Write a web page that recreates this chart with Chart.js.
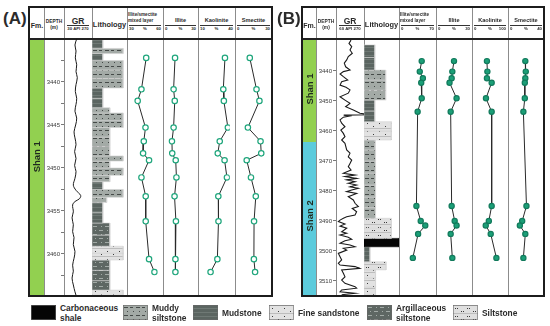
<!DOCTYPE html>
<html>
<head>
<meta charset="utf-8">
<script src="https://cdn.jsdelivr.net/npm/chart.js@4.4.1/dist/chart.umd.min.js"></script>
<style>
body{margin:0;background:#fff;}
#wrap{position:relative;width:550px;height:326px;overflow:hidden;font-family:"Liberation Sans",Arial,sans-serif;color:#2b2b2b;}
#wrap div{position:absolute;}
#wrap canvas{position:absolute;}
.t{font-weight:bold;white-space:nowrap;line-height:1;}
</style>
</head>
<body>
<div id="wrap"></div>
<script>
// ===== Data: panel A =====
const depthA = [3437.2, 3440.85, 3442.2, 3445.3, 3446.9, 3448.3, 3449.1, 3451.1, 3453.3, 3456.2, 3460.6, 3462.1];
const isA  = [46.7, 40, 34.7, 45.7, 43.3, 42.3, 50.7, 40, 46, 46, 50.7, 58.3];
const illA = [7.5, 5.5, 7.1, 5.5, 3.2, 3.6, 8.4, 9.4, 6.8, 8.7, 8.0, 8.0];
const kaoA = [35.7, 33.6, 34.3, 39.4, 29.1, 26.6, 35.2, 38.2, 27.3, 27.5, 26.1, 17.5];
const smeA = [10.3, 18.8, 22.5, 7.9, 23.9, 24.8, 6.4, 11.8, 17.9, 15.7, 15.5, 17.0];

const grDepthA = [3435.0,3435.7,3436.4,3437.2,3438.0,3438.8,3439.5,3440.3,3441.1,3441.9,3442.6,3443.4,3444.2,3445.0,3445.8,3446.5,3447.3,3448.1,3448.9,3449.7,3450.4,3451.2,3452.0,3452.6,3453.2,3453.6,3453.9,3454.3,3455.1,3455.8,3456.6,3457.4,3458.1,3458.9,3459.7,3460.5,3461.3,3462.0,3462.8,3463.6,3464.4,3464.8];
const grA      = [139,124,133,127,139,133,144,133,127,139,133,124,139,130,116,124,133,121,133,121,133,124,110,133,173,161,124,104,110,99,110,104,116,110,124,116,104,110,99,110,124,133];

const litTopA   = [3435.1,3436.1,3436.7,3437.5,3438.6,3439.6,3440.7,3441.9,3443.0,3443.6,3444.5,3445.3,3446.4,3447.5,3448.6,3449.2,3450.0,3450.85,3451.6,3452.5,3453.4,3454.0,3455.2,3456.4,3457.8,3459.1,3459.9,3460.7,3461.9,3463.1,3464.2];
const litTypeA  = ['mud','mudsilt','mud','mudsilt','mudsilt','mudsilt','mud','mud','mudsilt','mudsilt','mudsilt','mudsilt','mudsilt','mudsilt','mudsilt','mudsilt','mudsilt','mudsilt','mud','mudsilt','mudsilt','mud','mud','argsilt','argsilt','fsand','fsand','argsilt','argsilt','argsilt','fsand'];
const litWidthA = [3.1,8.9,3.1,8.9,8.9,8.9,3.1,3.1,5.1,8.9,8.9,5.1,5.1,5.1,8.9,5.1,8.9,5.1,3.1,8.9,4.2,3.1,3.1,5.1,5.1,8.9,8.9,5.1,5.1,5.1,8.9];
const litEndA = 3464.75;

const fmNameA = ['Shan 1'];
const fmTopA = [3435.1];
const fmBaseA = [3464.77];
const fmLabelA = [3448.7];

const depthRangeA = [3435.12, 3464.77];
const depthTicksA = [3437.5,3440,3442.5,3445,3447.5,3450,3452.5,3455,3457.5,3460,3462.5];
const grRangeA = [30, 270];
const minRangeA = [[30,60],[0,30],[10,40],[0,30]];

// ===== Data: panel B =====
const depthB = [3436.7, 3440.2, 3442.4, 3443.9, 3449.1, 3453.6, 3485.0, 3490.0, 3491.5, 3494.3, 3502.3];
const isB  = [47.4, 41.7, 50.9, 46, 47.4, 35.4, 31.8, 44.5, 57.9, 36.8, 21.2];
const illB = [15, 12.8, 11.9, 9.1, 18.4, 10.6, 11.9, 15.9, 18.4, 10.6, 12.8];
const kaoB = [36.5, 38.5, 36.5, 57.3, 32.3, 57.3, 57.3, 44.8, 31.3, 53.1, 78.1];
const smeB = [18.8, 19.6, 18.8, 17.9, 17.9, 15.4, 20.8, 13.3, 9.2, 18.8, 15.4];

const grDepthB = [3429.7,3430.8,3431.9,3433.0,3434.1,3435.2,3436.3,3437.4,3438.6,3439.7,3440.2,3441.0,3441.9,3443.0,3443.6,3444.7,3445.4,3446.3,3447.4,3448.6,3449.7,3450.8,3451.9,3453.0,3454.1,3454.5,3454.6,3454.7,3455.0,3455.4,3456.3,3457.4,3458.6,3459.7,3460.8,3461.9,3463.0,3464.1,3466.3,3467.4,3468.6,3469.7,3470.8,3471.9,3473.0,3474.1,3474.7,3475.2,3475.8,3476.3,3476.9,3477.4,3478.0,3478.6,3479.1,3479.7,3480.2,3480.8,3481.9,3483.0,3484.1,3485.2,3485.8,3486.9,3488.0,3488.6,3489.1,3489.7,3490.2,3491.0,3491.7,3492.4,3493.6,3494.1,3494.7,3495.4,3496.1,3496.6,3497.4,3498.0,3498.6,3499.1,3499.7,3500.8,3501.9,3503.0,3504.1,3504.7,3505.2,3505.8,3506.3,3507.4,3508.6,3509.7,3510.8,3511.9,3512.4,3513.0,3513.6,3514.1,3514.6];
const grB      = [174,156,180,165,185,150,136,115,127,165,107,78,107,145,92,78,130,165,150,78,121,165,127,194,252,330,330,110,160,107,78,92,121,85,107,121,92,121,136,165,150,180,165,150,174,107,209,121,223,136,209,150,223,165,238,180,136,223,150,194,209,238,185,223,209,136,107,78,63,121,78,136,92,136,78,150,180,121,78,165,209,107,136,63,78,92,63,78,209,250,92,107,121,92,121,209,223,92,78,209,92];

const litTopB   = [3431.3,3435.5,3439.7,3443.0,3446.4,3449.7,3453.3,3456.9,3460.0,3463.0,3466.3,3470.0,3474.0,3478.0,3482.0,3485.6,3489.1,3492.4,3495.8,3498.6,3503.6,3506.3,3509.0,3512.0];
const litTypeB  = ['mud','mud','mudsilt','mudsilt','mudsilt','mud','mud','fsand','fsand','mudsilt','mudsilt','mudsilt','mudsilt','mudsilt','mudsilt','mudsilt','silt','silt','coal','mud','silt','fsand','fsand','fsand'];
const litWidthB = [3.1,3.1,6.2,6.2,6.2,3.1,3.1,7.8,7.8,3.2,3.3,3.3,3.3,3.3,3.3,3.3,7.8,7.8,10,1.7,6.3,3.3,3.3,3.3];
const litEndB = 3514.7;

const fmNameB = ['Shan 1', 'Shan 2'];
const fmTopB = [3429.67, 3463.7];
const fmBaseB = [3463.7, 3514.67];
const fmLabelB = [3446, 3488.3];

const depthRangeB = [3429.67, 3514.67];
const depthTicksB = [3440,3450,3460,3470,3480,3490,3500,3510];
const grRangeB = [60, 270];
const minRangeB = [[0,70],[0,30],[0,100],[0,40]];

const minNames = ['Illite/smectite mixed layer', 'Illite', 'Kaolinite', 'Smectite'];
const legendTypes = ['coal','mudsilt','mud','fsand','argsilt','silt'];
const legendNames = ['Carbonaceous\nshale','Muddy\nsiltstone','Mudstone','Fine sandstone','Argillaceous\nsiltstone','Siltstone'];

// ===== Layout =====
const wrap = document.getElementById('wrap');
const TOP = 7, HEAD = 39, Y0 = 40, Y1 = 295, BOT = 296, PADV = 8;
const fmColor = {'Shan 1': '#92d050', 'Shan 2': '#5ccbdc'};

function box(x, y, w, h, css) {
    const d = document.createElement('div');
    d.style.cssText = `left:${x}px;top:${y}px;width:${w}px;height:${h}px;${css||''}`;
    wrap.appendChild(d);
    return d;
}
function txt(s, x, y, size, align, css) {
    const d = document.createElement('div');
    d.className = 't';
    d.textContent = s;
    let tr = align === 'left' ? '' : align === 'right' ? 'translateX(-100%)' : 'translateX(-50%)';
    d.style.cssText = `left:${x}px;top:${y - size/2}px;font-size:${size}px;transform:${tr};${css||''}`;
    wrap.appendChild(d);
    return d;
}

// ===== Patterns =====
function tile(w, h, fn) {
    const c = document.createElement('canvas');
    c.width = w; c.height = h;
    fn(c.getContext('2d'));
    return c.getContext('2d').createPattern(c, 'repeat');
}
const fills = {
    coal: '#050505',
    mud: tile(10, 4, g => { g.fillStyle = '#5b6561'; g.fillRect(0,0,10,4); g.fillStyle = '#6f7975'; g.fillRect(0,3,10,1); }),
    argsilt: tile(12, 8, g => {
        g.fillStyle = '#5e6763'; g.fillRect(0,0,12,8);
        g.fillStyle = '#a2aaa6'; g.fillRect(1,2,4,1); g.fillRect(7,6,4,1); g.fillRect(9,2,1,1); g.fillRect(3,6,1,1);
    }),
    mudsilt: tile(12, 8, g => {
        g.fillStyle = '#a3aaa6'; g.fillRect(0,0,12,8);
        g.fillStyle = '#454a48'; g.fillRect(1,2,4,1); g.fillRect(7,2,3,1); g.fillRect(4,6,1,1); g.fillRect(10,6,1,1);
    }),
    fsand: tile(12, 8, g => {
        g.fillStyle = '#e2e2e2'; g.fillRect(0,0,12,8);
        g.fillStyle = '#bdbdbd'; g.fillRect(0,0,12,1);
        g.fillStyle = '#3a3a3a'; g.fillRect(3,3,1,1); g.fillRect(9,6,1,1);
    }),
    silt: tile(12, 8, g => {
        g.fillStyle = '#dfdfdf'; g.fillRect(0,0,12,8);
        g.fillStyle = '#bdbdbd'; g.fillRect(0,0,12,1);
        g.fillStyle = '#3a3a3a'; g.fillRect(2,3,1,1); g.fillRect(4,3,1,1); g.fillRect(8,6,1,1); g.fillRect(10,6,1,1);
    })
};

// ===== Charts =====
function padRange(lo, hi, w, p) {
    const per = (hi - lo) / (w - 2 * p);
    return [lo - p * per, hi + p * per];
}
function baseOpts(xr, yr) {
    return {
        responsive: false, animation: false, devicePixelRatio: 1, events: [],
        layout: {padding: {top: PADV, bottom: PADV, left: 0, right: 0}},
        plugins: {legend: {display: false}, tooltip: {enabled: false}},
        scales: {
            x: {type: 'linear', display: false, min: xr[0], max: xr[1]},
            y: {type: 'linear', display: false, min: yr[0], max: yr[1], reverse: true}
        }
    };
}
function mk(x, w, cfg) {
    const c = document.createElement('canvas');
    c.width = w; c.height = (Y1 - Y0) + 2 * PADV;
    c.style.left = x + 'px'; c.style.top = (Y0 - PADV) + 'px';
    wrap.appendChild(c);
    return new Chart(c, cfg);
}
function rect(x0, x1, y0, y1) {
    return [{x:x0,y:y0},{x:x1,y:y0},{x:x1,y:y1},{x:x0,y:y1},{x:x0,y:y0}];
}

function panel(P) {
    const c = P.cols;
    // frame, header line, separators
    for (let i = 1; i < 8; i++) box(c[i] - 0.5, TOP, 1, BOT - TOP, 'background:#8c8c8c');
    box(c[0], HEAD - 0.75, c[8] - c[0], 1.5, 'background:#222');
    box(c[0] - 1, TOP - 1, c[8] - c[0] + 2, BOT - TOP + 2, 'border:2px solid #1c1c1c;box-sizing:border-box');

    // header
    txt(P.tag, P.tagX, 18, 17, 'left');
    txt('Fm.', (c[0]+c[1])/2 + 0.5, 25, 7, 'center');
    txt('DEPTH', (c[1]+c[2])/2, 22.5, 4.8, 'center');
    txt('(m)', (c[1]+c[2])/2, 28, 4.8, 'center');
    txt('GR', (c[2]+c[3])/2, 21, 8.5, 'center');
    box(c[2] + 3, 25.2, c[3] - c[2] - 6, 0.8, 'background:#333');
    txt(`${P.gr[0]} API ${P.gr[1]}`, (c[2]+c[3])/2, 29.5, 4.3, 'center');
    txt('Lithology', (c[3]+c[4])/2, 25, 7.4, 'center');
    for (let k = 0; k < 4; k++) {
        const l = c[4+k], r = c[5+k];
        if (k === 0) {
            txt('Illite/smectite', l + 1, 15.5, 4.6, 'left');
            txt('mixed layer', l + 1, 21, 4.6, 'left');
        } else {
            txt(minNames[k], (l+r)/2, 20.5, 5.6, 'center');
        }
        box(l + 2, 25.2, r - l - 4, 0.8, 'background:#333');
        txt(String(P.ranges[k][0]), l + 2, 29.5, 4.3, 'left');
        txt('%', (l+r)/2, 29.5, 4.3, 'center');
        txt(String(P.ranges[k][1]), r - 2, 29.5, 4.3, 'right');
    }

    // Fm column
    const fmOpts = baseOpts([0, 1], P.depthRange);
    mk(c[0] + 1, c[1] - c[0] - 1, {
        type: 'line',
        data: {datasets: P.fmName.map((n, i) => ({
            data: rect(0, 1, P.fmTop[i], P.fmBase[i]), fill: 'shape',
            backgroundColor: fmColor[n], borderWidth: 0, pointRadius: 0
        }))},
        options: fmOpts,
        plugins: [{
            id: 'fmLabels',
            afterDatasetsDraw(chart) {
                const {ctx, scales: {x, y}} = chart;
                P.fmName.forEach((n, i) => {
                    ctx.save();
                    ctx.translate(x.getPixelForValue(0.5) + 0.5, y.getPixelForValue(P.fmLabel[i]));
                    ctx.rotate(-Math.PI / 2);
                    ctx.font = 'bold 9.5px "Liberation Sans", Arial';
                    ctx.fillStyle = '#1f2a1f';
                    ctx.textAlign = 'center'; ctx.textBaseline = 'middle';
                    ctx.fillText(n, 0, 0);
                    ctx.restore();
                });
            }
        }]
    });

    // depth axis + GR
    const grW = c[3] - c[2];
    const grOpts = baseOpts(padRange(P.gr[0], P.gr[1], grW, P.grPad), P.depthRange);
    grOpts.layout.padding.right = 8;
    grOpts.scales.y = {
        type: 'linear', display: true, position: 'left', reverse: true,
        min: P.depthRange[0], max: P.depthRange[1],
        afterFit: s => { s.width = c[2] - c[1]; },
        afterBuildTicks: s => { s.ticks = P.ticks.map(v => ({value: v})); },
        grid: {drawOnChartArea: false, drawTicks: true, tickLength: 3, color: '#555', lineWidth: 0.8},
        border: {display: false},
        ticks: {autoSkip: false, padding: 1, color: '#3a3a3a', font: {size: 6, family: '"Liberation Sans", Arial'},
                callback: v => (v % P.labelStep === 0 ? v : '')}
    };
    mk(c[1], c[3] - c[1] + 8, {
        type: 'line',
        data: {datasets: [{
            data: P.grDepth.map((d, i) => ({x: P.grVal[i], y: d})),
            borderColor: '#1a1a1a', borderWidth: P.grLine, pointRadius: 0, tension: P.grTension, clip: false, fill: false
        }]},
        options: grOpts
    });

    // lithology
    mk(c[3], c[4] - c[3], {
        type: 'line',
        data: {datasets: P.litTop.map((t, i) => ({
            data: rect(0, P.litW[i], t, i + 1 < P.litTop.length ? P.litTop[i+1] : P.litEnd),
            fill: 'shape', backgroundColor: fills[P.litType[i]],
            borderColor: P.litType[i] === 'coal' ? '#000' : '#d4d4d4', borderWidth: 0.6, pointRadius: 0, tension: 0
        }))},
        options: baseOpts([0, 10], P.depthRange)
    });

    // clay minerals
    for (let k = 0; k < 4; k++) {
        const l = c[4+k], r = c[5+k];
        mk(l, r - l, {
            type: 'line',
            data: {datasets: [{
                data: P.depth.map((d, i) => ({x: P.minerals[k][i], y: d})),
                borderColor: '#2a2a2a', borderWidth: 1, tension: 0, fill: false,
                pointRadius: P.ptR, pointBorderWidth: 1.2,
                pointBorderColor: P.ptBorder, pointBackgroundColor: P.ptFill
            }]},
            options: baseOpts(padRange(P.ranges[k][0], P.ranges[k][1], r - l, k === 0 ? P.isPad : 2), P.depthRange)
        });
    }
}

panel({
    tag: '(A)', tagX: 3, cols: [29,44,64,92,127,163,198,235,272],
    depthRange: depthRangeA, ticks: depthTicksA, labelStep: 5,
    gr: grRangeA, grPad: 0, grDepth: grDepthA, grVal: grA, grLine: 1, grTension: 0.35,
    litTop: litTopA, litType: litTypeA, litW: litWidthA, litEnd: litEndA,
    fmName: fmNameA, fmTop: fmTopA, fmBase: fmBaseA, fmLabel: fmLabelA,
    depth: depthA, minerals: [isA, illA, kaoA, smeA], ranges: minRangeA, isPad: 3,
    ptR: 2.7, ptBorder: '#1fa67c', ptFill: '#ffffff'
});
panel({
    tag: '(B)', tagX: 277, cols: [302,316,336,364,399,436,472,508,544],
    depthRange: depthRangeB, ticks: depthTicksB, labelStep: 10,
    gr: grRangeB, grPad: 2, grDepth: grDepthB, grVal: grB, grLine: 1.1, grTension: 0,
    litTop: litTopB, litType: litTypeB, litW: litWidthB, litEnd: litEndB,
    fmName: fmNameB, fmTop: fmTopB, fmBase: fmBaseB, fmLabel: fmLabelB,
    depth: depthB, minerals: [isB, illB, kaoB, smeB], ranges: minRangeB, isPad: 2,
    ptR: 2.6, ptBorder: '#127a5c', ptFill: '#1b9f77'
});

// ===== Legend =====
const swX = [31, 123, 193, 269, 367, 453];
legendTypes.forEach((t, i) => {
    const c = document.createElement('canvas');
    c.width = 25; c.height = 15;
    c.style.left = swX[i] + 'px'; c.style.top = '305px';
    const g = c.getContext('2d');
    g.fillStyle = fills[t]; g.fillRect(0, 0, 25, 15);
    g.strokeStyle = '#6a6a6a'; g.lineWidth = 0.6; g.strokeRect(0.3, 0.3, 24.4, 14.4);
    wrap.appendChild(c);
    const lines = legendNames[i].split('\n');
    const tx = swX[i] + 29;
    if (lines.length === 1) txt(lines[0], tx, 313, 8.4, 'left');
    else { txt(lines[0], tx, 308.5, 8.4, 'left'); txt(lines[1], tx, 318.5, 8.4, 'left'); }
});
</script>
</body>
</html>
